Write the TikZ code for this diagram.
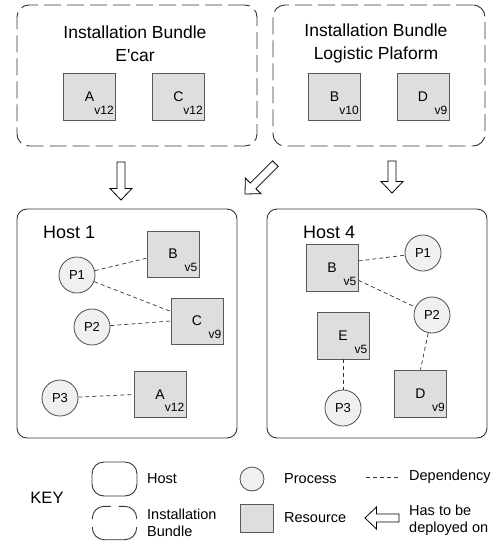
\documentclass[tikz,border=0pt]{standalone}
\usepackage{fontspec}
\setmainfont{Liberation Sans}
\usetikzlibrary{positioning}

% hollow arrow: tip, angle, length
\newcommand{\deployarrow}[3]{%
  \draw[deploy, shift={#1}, rotate=#2] (0,0) -- (-11.5,11) -- (-11.5,4) -- (-#3,4)
    -- (-#3,-4) -- (-11.5,-4) -- (-11.5,-11) -- cycle;}

\begin{document}
\begin{tikzpicture}[x=1pt, y=-1pt,
    bundle/.style={draw=black!80, line width=0.9pt, dash pattern=on 17pt off 6pt, rounded corners=12pt},
    keyline/.style={draw=black!80, line width=0.9pt, rounded corners=12pt},
    host/.style={draw=black!80, line width=0.9pt, rounded corners=10pt},
    resource/.style={draw=black!65, line width=0.8pt, fill=black!13, minimum width=52pt, minimum height=47pt, inner sep=0pt, font=\fontsize{14}{16}\selectfont},
    version/.style={anchor=south east, inner sep=0pt, xshift=-2pt, yshift=6pt, font=\fontsize{12}{14}\selectfont},
    process/.style={circle, draw=black!70, line width=0.8pt, fill=black!6, minimum size=36pt, inner sep=0pt, font=\fontsize{13}{15}\selectfont},
    dep/.style={draw=black!80, line width=0.7pt, dash pattern=on 4pt off 3pt},
    deploy/.style={draw=black, line width=0.8pt, fill=white, line join=miter},
    title/.style={align=center, font=\fontsize{17.5}{23}\selectfont},
    hostname/.style={anchor=west, inner sep=0pt, font=\fontsize{18}{20}\selectfont},
    keytext/.style={anchor=west, inner sep=0pt, align=left, font=\fontsize{14.5}{17}\selectfont}]
    \useasboundingbox (0,0) rectangle (501,544);

    % installation bundles
    \node[bundle, minimum width=240pt, minimum height=141pt] (ecar) at (137,75.5) {};
    \node[bundle, minimum width=212pt, minimum height=141pt] (logistic) at (379,75.5) {};
    \node[title] (ecartitle) at (135,43.5) {Installation Bundle\\E\textquotesingle car};
    \node[title] (logistictitle) at (376,43.5) {Installation Bundle\\Logistic Plaform};

    \node[resource, label={[version]south east:v12}] (ea) at (89.5,96.5) {A};
    \node[resource, label={[version]south east:v12}] (ec) at (178.5,96.5) {C};
    \node[resource, label={[version]south east:v10}] (lb) at (334.5,96.5) {B};
    \node[resource, label={[version]south east:v9}] (ld) at (423,96.5) {D};

    % deployment arrows
    \coordinate (tip1) at (121,200);
    \coordinate (tip2) at (245,194);
    \coordinate (tip3) at (392,193);
    \deployarrow{(tip1)}{-90}{38}
    \deployarrow{(tip2)}{-135}{43}
    \deployarrow{(tip3)}{-90}{32}

    % host 1
    \node[host, minimum width=220pt, minimum height=229pt] (host1) at (127,323.5) {};
    \node[hostname] (host1name) at (43,232) {Host 1};
    \node[resource, minimum height=46pt, label={[version]south east:v5}] (h1b) at (173,254) {B};
    \node[resource, minimum height=46pt, label={[version]south east:v9}] (h1c) at (197,321) {C};
    \node[resource, minimum height=46pt, label={[version]south east:v12}] (h1a) at (160,394.5) {A};
    \node[process] (h1p1) at (77,275) {P1};
    \node[process] (h1p2) at (92,327) {P2};
    \node[process] (h1p3) at (60,398) {P3};

    \draw[dep] (h1p1) -- (h1b.189);
    \draw[dep] (h1p1) -- (h1c.160);
    \draw[dep] (h1p2) -- (h1c.west);
    \draw[dep] (h1p3) -- (h1a.west);

    % host 4
    \node[host, minimum width=220pt, minimum height=229pt] (host4) at (377,323.5) {};
    \node[hostname] (host4name) at (303,232) {Host 4};
    \node[resource, label={[version]south east:v5}] (h4b) at (332,268) {B};
    \node[resource, label={[version]south east:v5}] (h4e) at (343,335.5) {E};
    \node[resource, label={[version]south east:v9}] (h4d) at (420.5,393.5) {D};
    \node[process] (h4p1) at (423,253) {P1};
    \node[process] (h4p2) at (432,315) {P2};
    \node[process] (h4p3) at (343,408) {P3};

    \draw[dep] (h4b.15) -- (h4p1);
    \draw[dep] (h4b.-25) -- (h4p2);
    \draw[dep] (h4p2) -- (h4d.north);
    \draw[dep] (h4e) -- (h4p3);

    % key
    \node[font=\fontsize{16.5}{18}\selectfont] (key) at (47,498) {KEY};
    \node[host, rounded corners=12pt, minimum width=45pt, minimum height=34pt] (keyhost) at (114.5,479) {};
    \node[keytext] (keyhosttext) at (147,479) {Host};
    \node[minimum width=44pt, minimum height=33pt, inner sep=0pt] (keybundle) at (114.5,523) {};
    \draw[keyline] ([yshift=4pt]keybundle.west) |- ([xshift=-4pt]keybundle.north);
    \draw[keyline] ([xshift=4pt]keybundle.north) -| ([yshift=4pt]keybundle.east);
    \draw[keyline] ([yshift=-4pt]keybundle.east) |- (keybundle.south) -| ([yshift=-4pt]keybundle.west);
    \node[keytext] (keybundletext) at (147,523) {Installation\\Bundle};
    \node[process, minimum size=24pt] (keyprocess) at (252,479) {};
    \node[keytext] (keyprocesstext) at (284,479) {Process};
    \node[resource, minimum width=33pt, minimum height=28pt] (keyresource) at (256.5,518) {};
    \node[keytext] (keyresourcetext) at (284,518) {Resource};
    \coordinate (depstart) at (366,477);
    \coordinate (depend) at (398,477);
    \draw[dep] (depstart) -- (depend);
    \node[keytext] (keydeptext) at (409,477) {Dependency};
    \coordinate (tip4) at (365,518);
    \deployarrow{(tip4)}{180}{34}
    \node[keytext] (keydeploytext) at (409,520) {Has to be\\deployed on};
\end{tikzpicture}
\end{document}
